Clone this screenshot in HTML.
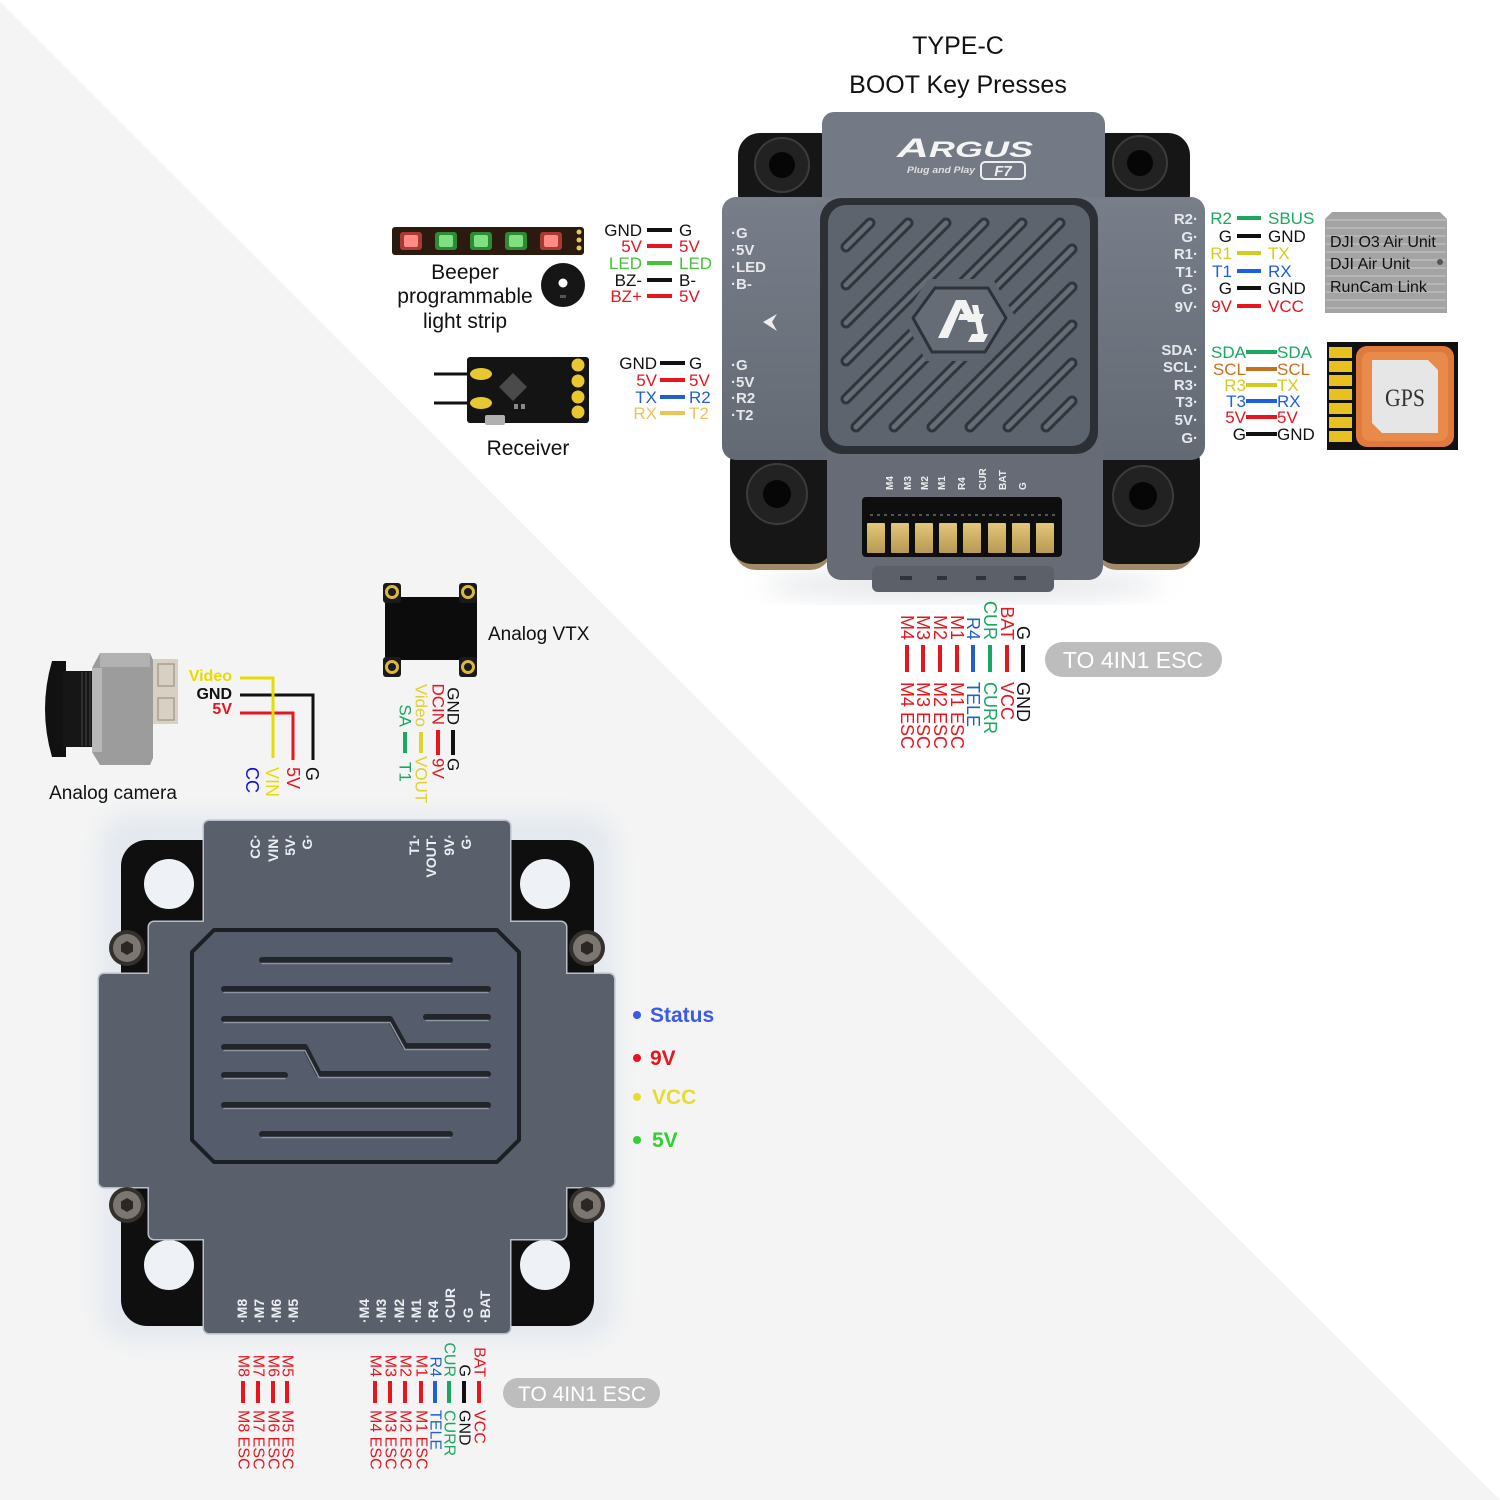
<!DOCTYPE html>
<html><head><meta charset="utf-8"><style>
html,body{margin:0;padding:0;background:#fff;}
svg{display:block;}
text{font-family:"Liberation Sans",Arial,sans-serif;}
.v{dominant-baseline:central;}
.b{font-weight:bold;}
</style></head><body>
<svg width="1500" height="1500" viewBox="0 0 1500 1500" xmlns="http://www.w3.org/2000/svg">
<defs>
<linearGradient id="plate" x1="0" y1="0" x2="0" y2="1"><stop offset="0" stop-color="#787e89"/><stop offset="1" stop-color="#646a74"/></linearGradient>
<linearGradient id="gold" x1="0" y1="0" x2="0" y2="1"><stop offset="0" stop-color="#e2c67a"/><stop offset="1" stop-color="#b89a52"/></linearGradient>
<filter id="blur" x="-20%" y="-20%" width="140%" height="140%"><feGaussianBlur stdDeviation="12"/></filter>
<clipPath id="face"><rect x="830" y="207" width="258" height="238" rx="18"/></clipPath>
</defs>
<rect width="1500" height="1500" fill="#fff"/>
<polygon points="0,2 1500,1500 0,1500" fill="#f4f4f4"/>

<!-- ============ TITLE ============ -->
<text x="958" y="54" font-size="25" text-anchor="middle" fill="#111">TYPE-C</text>
<text x="958" y="93" font-size="25" text-anchor="middle" fill="#111">BOOT Key Presses</text>

<!-- ============ TOP BOARD ============ -->
<ellipse cx="963" cy="585" rx="200" ry="14" fill="#c8ccd2" opacity="0.5" filter="url(#blur)"/>
<rect x="738" y="133" width="104" height="84" rx="22" fill="#161616"/>
<rect x="1085" y="133" width="105" height="84" rx="22" fill="#161616"/>
<rect x="734" y="448" width="98" height="122" rx="22" fill="#a08a68"/>
<rect x="1095" y="448" width="100" height="122" rx="22" fill="#a08a68"/>
<rect x="730" y="440" width="104" height="124" rx="22" fill="#161616"/>
<rect x="1094" y="440" width="106" height="124" rx="22" fill="#161616"/>
<rect x="822" y="112" width="283" height="120" rx="12" fill="#747a85"/>
<rect x="722" y="197" width="483" height="263" rx="14" fill="url(#plate)"/>
<rect x="827" y="430" width="276" height="150" rx="14" fill="#666b75"/>
<rect x="872" y="566" width="182" height="26" rx="6" fill="#5c6169"/>
<rect x="900" y="576" width="12" height="4" fill="#30333a"/><rect x="937" y="576" width="10" height="4" fill="#30333a"/>
<rect x="976" y="576" width="10" height="4" fill="#30333a"/><rect x="1014" y="576" width="12" height="4" fill="#30333a"/>
<g>
<circle cx="782" cy="165" r="27" fill="#222" stroke="#3c3c3c" stroke-width="2"/><circle cx="782" cy="165" r="13" fill="#060606"/>
<circle cx="1140" cy="163" r="27" fill="#222" stroke="#3c3c3c" stroke-width="2"/><circle cx="1140" cy="163" r="13" fill="#060606"/>
<circle cx="777" cy="494" r="30" fill="#222" stroke="#3c3c3c" stroke-width="2"/><circle cx="777" cy="494" r="14" fill="#060606"/>
<circle cx="1143" cy="496" r="30" fill="#222" stroke="#3c3c3c" stroke-width="2"/><circle cx="1143" cy="496" r="14" fill="#060606"/>
</g>
<text x="897" y="157" font-size="27" font-weight="bold" font-style="italic" fill="#f4f4f4" textLength="136" lengthAdjust="spacingAndGlyphs">A<tspan font-size="22">RGUS</tspan></text>
<text x="907" y="173" font-size="9" font-weight="bold" font-style="italic" fill="#e0e0e0" textLength="68" lengthAdjust="spacingAndGlyphs">Plug and Play</text>
<rect x="981" y="162" width="44" height="17" rx="4" fill="none" stroke="#eee" stroke-width="2"/>
<text x="1003" y="176" font-size="15" font-weight="bold" font-style="italic" text-anchor="middle" fill="#eee">F7</text>
<rect x="820" y="198" width="278" height="256" rx="22" fill="#2c3036"/>
<rect x="828" y="205" width="262" height="241" rx="18" fill="#5e646e"/>
<g clip-path="url(#face)" stroke-linecap="round">
<g stroke="#30343b" stroke-width="11">
<line x1="846" y1="247" x2="870" y2="223"/><line x1="846" y1="285" x2="908" y2="223"/>
<line x1="846" y1="323" x2="946" y2="223"/><line x1="846" y1="361" x2="984" y2="223"/>
<line x1="846" y1="399" x2="1022" y2="223"/><line x1="856" y1="427" x2="1060" y2="223"/>
<line x1="894" y1="427" x2="1072" y2="249"/><line x1="932" y1="427" x2="1072" y2="287"/>
<line x1="970" y1="427" x2="1072" y2="325"/><line x1="1008" y1="427" x2="1072" y2="363"/>
<line x1="1046" y1="427" x2="1072" y2="401"/>
</g>
<g stroke="#666c76" stroke-width="5">
<line x1="846" y1="247" x2="870" y2="223"/><line x1="846" y1="285" x2="908" y2="223"/>
<line x1="846" y1="323" x2="946" y2="223"/><line x1="846" y1="361" x2="984" y2="223"/>
<line x1="846" y1="399" x2="1022" y2="223"/><line x1="856" y1="427" x2="1060" y2="223"/>
<line x1="894" y1="427" x2="1072" y2="249"/><line x1="932" y1="427" x2="1072" y2="287"/>
<line x1="970" y1="427" x2="1072" y2="325"/><line x1="1008" y1="427" x2="1072" y2="363"/>
<line x1="1046" y1="427" x2="1072" y2="401"/>
</g>
</g>
<polygon points="903,318 928,279 993,279 1016,318 991,361 926,361" fill="#5e646e"/>
<polygon points="913,318 935,288 988,288 1006,318 985,352 932,352" fill="#666c76" stroke="#2e3238" stroke-width="3" stroke-linejoin="round"/>
<polygon points="938,338 956,300 966,300 976,322 968,322 961,308 948,338" fill="#f2f2f2"/>
<polygon points="960,314 984,314 981,320 958,320" fill="#f2f2f2"/>
<polygon points="934,342 984,342 988,334 972,334 968,342" fill="#f2f2f2"/>
<polygon points="972,305 978,305 984,335 978,335" fill="#f2f2f2"/>
<g font-size="15" font-weight="bold" fill="#e6e8ec">
<text x="731" y="238">·G</text><text x="731" y="255">·5V</text><text x="731" y="272">·LED</text><text x="731" y="289">·B-</text>
<text x="731" y="370">·G</text><text x="731" y="387">·5V</text><text x="731" y="403">·R2</text><text x="731" y="420">·T2</text>
<g text-anchor="end">
<text x="1198" y="224">R2·</text><text x="1198" y="242">G·</text><text x="1198" y="259">R1·</text><text x="1198" y="277">T1·</text><text x="1198" y="294">G·</text><text x="1198" y="312">9V·</text>
<text x="1198" y="355">SDA·</text><text x="1198" y="372">SCL·</text><text x="1198" y="390">R3·</text><text x="1198" y="407">T3·</text><text x="1198" y="425">5V·</text><text x="1198" y="443">G·</text>
</g>
</g>
<polygon points="777,314 763,322 777,331 772,322" fill="#eee"/>
<g font-size="10" font-weight="bold" fill="#eee">
<text transform="translate(893,490) rotate(-90)">M4</text><text transform="translate(911,490) rotate(-90)">M3</text>
<text transform="translate(928,490) rotate(-90)">M2</text><text transform="translate(945,490) rotate(-90)">M1</text>
<text transform="translate(965,490) rotate(-90)">R4</text><text transform="translate(986,490) rotate(-90)">CUR</text>
<text transform="translate(1006,490) rotate(-90)">BAT</text><text transform="translate(1026,490) rotate(-90)">G</text>
</g>
<rect x="862" y="497" width="200" height="60" rx="4" fill="#0e0e0e"/>
<line x1="870" y1="515" x2="1055" y2="515" stroke="#555" stroke-width="2" stroke-dasharray="3 4"/>
<g fill="url(#gold)">
<rect x="867" y="523" width="18" height="30" rx="1"/><rect x="891" y="523" width="18" height="30" rx="1"/>
<rect x="915" y="523" width="18" height="30" rx="1"/><rect x="939" y="523" width="18" height="30" rx="1"/>
<rect x="963" y="523" width="18" height="30" rx="1"/><rect x="988" y="523" width="18" height="30" rx="1"/>
<rect x="1012" y="523" width="18" height="30" rx="1"/><rect x="1036" y="523" width="18" height="30" rx="1"/>
</g>

<!-- ============ LED STRIP / BEEPER ============ -->
<rect x="392" y="227" width="192" height="28" rx="3" fill="#2a1a10"/>
<g>
<rect x="400" y="232" width="22" height="18" rx="3" fill="#a83a34"/><rect x="404" y="235" width="14" height="12" rx="2" fill="#ff8a86"/>
<rect x="435" y="232" width="22" height="18" rx="3" fill="#2f8a34"/><rect x="439" y="235" width="14" height="12" rx="2" fill="#7ee07e"/>
<rect x="470" y="232" width="22" height="18" rx="3" fill="#2f8a34"/><rect x="474" y="235" width="14" height="12" rx="2" fill="#7ee07e"/>
<rect x="505" y="232" width="22" height="18" rx="3" fill="#2f8a34"/><rect x="509" y="235" width="14" height="12" rx="2" fill="#7ee07e"/>
<rect x="540" y="232" width="22" height="18" rx="3" fill="#a83a34"/><rect x="544" y="235" width="14" height="12" rx="2" fill="#ff8a86"/>
<circle cx="579" cy="232" r="2.5" fill="#e8c860"/><circle cx="579" cy="240" r="2.5" fill="#e8c860"/><circle cx="579" cy="248" r="2.5" fill="#e8c860"/>
</g>
<circle cx="563" cy="285" r="22" fill="#161616"/>
<circle cx="563" cy="283" r="4.5" fill="#fff"/>
<rect x="560" y="295" width="6" height="3" fill="#555"/>
<g font-size="21" text-anchor="middle" fill="#111">
<text x="465" y="279">Beeper</text><text x="465" y="303">programmable</text><text x="465" y="328">light strip</text>
</g>
<g font-size="17">
<text x="642" y="236" text-anchor="end" fill="#111">GND</text><line x1="647" y1="230" x2="672" y2="230" stroke="#111" stroke-width="4"/><text x="679" y="236" fill="#111">G</text>
<text x="642" y="252" text-anchor="end" fill="#e8141e">5V</text><line x1="647" y1="246" x2="672" y2="246" stroke="#e8141e" stroke-width="4"/><text x="679" y="252" fill="#e8141e">5V</text>
<text x="642" y="269" text-anchor="end" fill="#44c23a">LED</text><line x1="647" y1="263" x2="672" y2="263" stroke="#44c23a" stroke-width="4"/><text x="679" y="269" fill="#44c23a">LED</text>
<text x="642" y="286" text-anchor="end" fill="#111">BZ-</text><line x1="647" y1="280" x2="672" y2="280" stroke="#111" stroke-width="4"/><text x="679" y="286" fill="#111">B-</text>
<text x="642" y="302" text-anchor="end" fill="#e8141e">BZ+</text><line x1="647" y1="296" x2="672" y2="296" stroke="#e8141e" stroke-width="4"/><text x="679" y="302" fill="#e8141e">5V</text>
</g>

<!-- ============ RECEIVER ============ -->
<line x1="434" y1="374" x2="470" y2="374" stroke="#111" stroke-width="3"/>
<line x1="434" y1="403" x2="470" y2="403" stroke="#111" stroke-width="3"/>
<rect x="467" y="357" width="122" height="66" rx="3" fill="#141414"/>
<ellipse cx="481" cy="374" rx="11" ry="6" fill="#e8c830"/><ellipse cx="481" cy="403" rx="11" ry="6" fill="#e8c830"/>
<circle cx="578" cy="365" r="6.5" fill="#e8c830"/><circle cx="578" cy="381" r="6.5" fill="#e8c830"/>
<circle cx="578" cy="397" r="6.5" fill="#e8c830"/><circle cx="578" cy="412" r="6.5" fill="#e8c830"/>
<polygon points="513,373 527,387 513,401 499,387" fill="#4a4a4a"/>
<rect x="514" y="404" width="4" height="5" fill="#888"/><rect x="521" y="404" width="4" height="5" fill="#888"/>
<rect x="485" y="415" width="20" height="10" rx="2" fill="#b0b0b0"/>
<text x="528" y="455" font-size="21" text-anchor="middle" fill="#111">Receiver</text>
<g font-size="17">
<text x="657" y="369" text-anchor="end" fill="#111">GND</text><line x1="660" y1="363" x2="685" y2="363" stroke="#111" stroke-width="4"/><text x="689" y="369" fill="#111">G</text>
<text x="657" y="386" text-anchor="end" fill="#e8141e">5V</text><line x1="660" y1="380" x2="685" y2="380" stroke="#e8141e" stroke-width="4"/><text x="689" y="386" fill="#e8141e">5V</text>
<text x="657" y="403" text-anchor="end" fill="#2060c8">TX</text><line x1="660" y1="397" x2="685" y2="397" stroke="#2060c8" stroke-width="4"/><text x="689" y="403" fill="#2060c8">R2</text>
<text x="657" y="419" text-anchor="end" fill="#eac45a">RX</text><line x1="660" y1="413" x2="685" y2="413" stroke="#eac45a" stroke-width="4"/><text x="689" y="419" fill="#eac45a">T2</text>
</g>

<!-- ============ RIGHT WIRING ============ -->
<g font-size="17">
<text x="1232" y="224" text-anchor="end" fill="#1aa860">R2</text><line x1="1237" y1="218" x2="1261" y2="218" stroke="#1aa860" stroke-width="4"/><text x="1268" y="224" fill="#1aa860">SBUS</text>
<text x="1232" y="242" text-anchor="end" fill="#111">G</text><line x1="1237" y1="236" x2="1261" y2="236" stroke="#111" stroke-width="4"/><text x="1268" y="242" fill="#111">GND</text>
<text x="1232" y="259" text-anchor="end" fill="#d4cc1c">R1</text><line x1="1237" y1="253" x2="1261" y2="253" stroke="#d4cc1c" stroke-width="4"/><text x="1268" y="259" fill="#d4cc1c">TX</text>
<text x="1232" y="277" text-anchor="end" fill="#1c5ee6">T1</text><line x1="1237" y1="271" x2="1261" y2="271" stroke="#1c5ee6" stroke-width="4"/><text x="1268" y="277" fill="#1c5ee6">RX</text>
<text x="1232" y="294" text-anchor="end" fill="#111">G</text><line x1="1237" y1="288" x2="1261" y2="288" stroke="#111" stroke-width="4"/><text x="1268" y="294" fill="#111">GND</text>
<text x="1232" y="312" text-anchor="end" fill="#e8141e">9V</text><line x1="1237" y1="306" x2="1261" y2="306" stroke="#e8141e" stroke-width="4"/><text x="1268" y="312" fill="#e8141e">VCC</text>

<text x="1246" y="358" text-anchor="end" fill="#1aa860">SDA</text><line x1="1246" y1="352" x2="1277" y2="352" stroke="#1aa860" stroke-width="4"/><text x="1277" y="358" fill="#1aa860">SDA</text>
<text x="1246" y="375" text-anchor="end" fill="#c4711e">SCL</text><line x1="1246" y1="369" x2="1277" y2="369" stroke="#c4711e" stroke-width="4"/><text x="1277" y="375" fill="#c4711e">SCL</text>
<text x="1246" y="391" text-anchor="end" fill="#d4cc1c">R3</text><line x1="1246" y1="385" x2="1277" y2="385" stroke="#d4cc1c" stroke-width="4"/><text x="1277" y="391" fill="#d4cc1c">TX</text>
<text x="1246" y="407" text-anchor="end" fill="#1c5ee6">T3</text><line x1="1246" y1="401" x2="1277" y2="401" stroke="#1c5ee6" stroke-width="4"/><text x="1277" y="407" fill="#1c5ee6">RX</text>
<text x="1246" y="423" text-anchor="end" fill="#e8141e">5V</text><line x1="1246" y1="417" x2="1277" y2="417" stroke="#e8141e" stroke-width="4"/><text x="1277" y="423" fill="#e8141e">5V</text>
<text x="1246" y="440" text-anchor="end" fill="#111">G</text><line x1="1246" y1="434" x2="1277" y2="434" stroke="#111" stroke-width="4"/><text x="1277" y="440" fill="#111">GND</text>
</g>

<polygon points="1332,212 1440,212 1447,219 1447,313 1325,313 1325,219" fill="#a3a3a3"/>
<g stroke="#b6b6b6" stroke-width="2">
<line x1="1326" y1="220" x2="1446" y2="220"/><line x1="1326" y1="228" x2="1446" y2="228"/><line x1="1326" y1="236" x2="1446" y2="236"/>
<line x1="1326" y1="244" x2="1446" y2="244"/><line x1="1326" y1="252" x2="1446" y2="252"/><line x1="1326" y1="260" x2="1446" y2="260"/>
<line x1="1326" y1="268" x2="1446" y2="268"/><line x1="1326" y1="276" x2="1446" y2="276"/><line x1="1326" y1="284" x2="1446" y2="284"/>
<line x1="1326" y1="292" x2="1446" y2="292"/><line x1="1326" y1="300" x2="1446" y2="300"/><line x1="1326" y1="308" x2="1446" y2="308"/>
</g>
<circle cx="1440" cy="262" r="3" fill="#555"/>
<g font-size="16" fill="#111">
<text x="1330" y="247">DJI O3 Air Unit</text><text x="1330" y="269">DJI Air Unit</text><text x="1330" y="292">RunCam Link</text>
</g>
<rect x="1327" y="342" width="131" height="108" fill="#111"/>
<g fill="#e8c020">
<rect x="1329" y="347" width="23" height="11"/><rect x="1329" y="361" width="23" height="11"/><rect x="1329" y="375" width="23" height="11"/>
<rect x="1329" y="389" width="23" height="11"/><rect x="1329" y="403" width="23" height="11"/><rect x="1329" y="417" width="23" height="11"/>
<rect x="1329" y="431" width="23" height="11"/>
</g>
<rect x="1356" y="346" width="98" height="101" rx="11" fill="#e07a3c"/>
<rect x="1362" y="352" width="86" height="89" rx="8" fill="#e88a4a"/>
<polygon points="1372,360 1428,360 1438,370 1438,433 1382,433 1372,423" fill="#e6e6e6"/>
<text x="1405" y="406" style="font-family:'Liberation Serif',serif" font-size="25" text-anchor="middle" fill="#333" textLength="40" lengthAdjust="spacingAndGlyphs">GPS</text>

<!-- ============ TOP ESC LABELS ============ -->
<g font-size="18">
<g fill="#e8141e"><text class="v" transform="translate(907,640) rotate(90)" text-anchor="end">M4</text><text class="v" transform="translate(907,682) rotate(90)">M4 ESC</text></g>
<g fill="#e8141e"><text class="v" transform="translate(923,640) rotate(90)" text-anchor="end">M3</text><text class="v" transform="translate(923,682) rotate(90)">M3 ESC</text></g>
<g fill="#e8141e"><text class="v" transform="translate(940,640) rotate(90)" text-anchor="end">M2</text><text class="v" transform="translate(940,682) rotate(90)">M2 ESC</text></g>
<g fill="#e8141e"><text class="v" transform="translate(957,640) rotate(90)" text-anchor="end">M1</text><text class="v" transform="translate(957,682) rotate(90)">M1 ESC</text></g>
<g fill="#2060c8"><text class="v" transform="translate(973,640) rotate(90)" text-anchor="end">R4</text><text class="v" transform="translate(973,682) rotate(90)">TELE</text></g>
<g fill="#1aa860"><text class="v" transform="translate(990,640) rotate(90)" text-anchor="end">CUR</text><text class="v" transform="translate(990,682) rotate(90)">CURR</text></g>
<g fill="#e8141e"><text class="v" transform="translate(1007,640) rotate(90)" text-anchor="end">BAT</text><text class="v" transform="translate(1007,682) rotate(90)">VCC</text></g>
<g fill="#111"><text class="v" transform="translate(1023,640) rotate(90)" text-anchor="end">G</text><text class="v" transform="translate(1023,682) rotate(90)">GND</text></g>
</g>
<g stroke-width="4">
<line x1="907" y1="645" x2="907" y2="672" stroke="#e8141e"/><line x1="923" y1="645" x2="923" y2="672" stroke="#e8141e"/>
<line x1="940" y1="645" x2="940" y2="672" stroke="#e8141e"/><line x1="957" y1="645" x2="957" y2="672" stroke="#e8141e"/>
<line x1="973" y1="645" x2="973" y2="672" stroke="#2060c8"/><line x1="990" y1="645" x2="990" y2="672" stroke="#1aa860"/>
<line x1="1007" y1="645" x2="1007" y2="672" stroke="#e8141e"/><line x1="1023" y1="645" x2="1023" y2="672" stroke="#111"/>
</g>
<rect x="1045" y="642" width="177" height="35" rx="17.5" fill="#bdbdbd"/>
<text x="1133" y="668" font-size="23" text-anchor="middle" fill="#fff">TO 4IN1 ESC</text>

<!-- ============ ANALOG CAMERA ============ -->
<path d="M52,661 Q38,709 52,757 L66,757 L66,661 Z" fill="#111"/>
<rect x="63" y="671" width="30" height="76" fill="#161616"/>
<g stroke="#2e2e2e" stroke-width="2"><line x1="82" y1="672" x2="82" y2="746"/><line x1="86" y1="672" x2="86" y2="746"/><line x1="90" y1="672" x2="90" y2="746"/></g>
<path d="M92,668 L100,653 L150,653 L153,660 L153,758 L150,765 L100,765 L92,752 Z" fill="#9c9c9c"/>
<rect x="100" y="653" width="50" height="14" fill="#b2b2b2"/>
<rect x="92" y="668" width="10" height="84" fill="#b8b8b8"/>
<rect x="153" y="659" width="25" height="65" fill="#d8d1c3"/>
<rect x="158" y="664" width="16" height="22" fill="none" stroke="#a89f8e" stroke-width="1.5"/>
<rect x="158" y="698" width="16" height="22" fill="none" stroke="#a89f8e" stroke-width="1.5"/>
<text x="113" y="799" font-size="19" text-anchor="middle" fill="#111">Analog camera</text>
<g font-size="16" font-weight="bold" text-anchor="end">
<text x="232" y="681" fill="#e6dc00">Video</text><text x="232" y="699" fill="#111">GND</text><text x="232" y="714" fill="#e8141e">5V</text>
</g>
<g fill="none" stroke-width="3">
<polyline points="240,695 313,695 313,760" stroke="#111"/>
<polyline points="240,713 293,713 293,760" stroke="#e8141e"/>
<polyline points="240,678 273,678 273,758" stroke="#e6dc00"/>
</g>
<g font-size="18">
<text class="v" transform="translate(252,767) rotate(90)" fill="#1010e0">CC</text>
<text class="v" transform="translate(272,767) rotate(90)" fill="#e6dc00">VIN</text>
<text class="v" transform="translate(293,767) rotate(90)" fill="#e8141e">5V</text>
<text class="v" transform="translate(312,767) rotate(90)" fill="#111">G</text>
</g>

<!-- ============ ANALOG VTX ============ -->
<rect x="385" y="597" width="92" height="63" fill="#0c0c0c"/>
<rect x="383" y="583" width="18" height="20" rx="3" fill="#1a1a1a"/><rect x="459" y="583" width="18" height="20" rx="3" fill="#1a1a1a"/>
<rect x="383" y="657" width="18" height="20" rx="3" fill="#1a1a1a"/><rect x="459" y="657" width="18" height="20" rx="3" fill="#1a1a1a"/>
<g fill="none" stroke="#d8b840" stroke-width="3">
<circle cx="392" cy="592" r="5.5"/><circle cx="468" cy="592" r="5.5"/><circle cx="392" cy="667" r="5.5"/><circle cx="468" cy="667" r="5.5"/>
</g>
<text x="488" y="640" font-size="19" fill="#111">Analog VTX</text>
<g font-size="17">
<g fill="#111"><text class="v" transform="translate(453,725) rotate(90)" text-anchor="end">GND</text><text class="v" transform="translate(453,758) rotate(90)">G</text></g>
<g fill="#e8141e"><text class="v" transform="translate(438,725) rotate(90)" text-anchor="end">DCIN</text><text class="v" transform="translate(438,758) rotate(90)">9V</text></g>
<g fill="#e0d030"><text class="v" transform="translate(421,727) rotate(90)" text-anchor="end">Video</text><text class="v" transform="translate(421,756) rotate(90)">VOUT</text></g>
<g fill="#1aa860"><text class="v" transform="translate(405,727) rotate(90)" text-anchor="end">SA</text><text class="v" transform="translate(405,762) rotate(90)">T1</text></g>
</g>
<g stroke-width="4">
<line x1="453" y1="730" x2="453" y2="755" stroke="#111"/><line x1="438" y1="730" x2="438" y2="755" stroke="#e8141e"/>
<line x1="421" y1="732" x2="421" y2="753" stroke="#e0d030"/><line x1="405" y1="732" x2="405" y2="753" stroke="#1aa860"/>
</g>

<!-- ============ BOTTOM BOARD ============ -->
<rect x="100" y="815" width="515" height="525" rx="30" fill="#d6e0ec" opacity="0.55" filter="url(#blur)"/>
<rect x="121" y="840" width="473" height="486" rx="26" fill="#0f0f10"/>
<circle cx="169" cy="884" r="25" fill="#eef1f5"/><circle cx="545" cy="884" r="25" fill="#eef1f5"/>
<circle cx="169" cy="1265" r="25" fill="#eef1f5"/><circle cx="545" cy="1265" r="25" fill="#eef1f5"/>
<polygon points="209,826 505,826 505,927 561,927 561,979 609,979 609,1182 561,1182 561,1234 505,1234 505,1328 209,1328 209,1234 154,1234 154,1182 104,1182 104,979 154,979 154,927 209,927" fill="#b9bfc8" stroke="#b9bfc8" stroke-width="13" stroke-linejoin="round"/>
<polygon points="209,826 505,826 505,927 561,927 561,979 609,979 609,1182 561,1182 561,1234 505,1234 505,1328 209,1328 209,1234 154,1234 154,1182 104,1182 104,979 154,979 154,927 209,927" fill="#59606c" stroke="#59606c" stroke-width="10" stroke-linejoin="round"/>
<g>
<circle cx="127" cy="948" r="18" fill="#34302d"/><circle cx="127" cy="948" r="14" fill="#7c7670"/><polygon points="127,941 133,944.5 133,951.5 127,955 121,951.5 121,944.5" fill="#2a2725"/>
<circle cx="587" cy="948" r="18" fill="#34302d"/><circle cx="587" cy="948" r="14" fill="#7c7670"/><polygon points="587,941 593,944.5 593,951.5 587,955 581,951.5 581,944.5" fill="#2a2725"/>
<circle cx="127" cy="1205" r="18" fill="#34302d"/><circle cx="127" cy="1205" r="14" fill="#7c7670"/><polygon points="127,1198 133,1201.5 133,1208.5 127,1212 121,1208.5 121,1201.5" fill="#2a2725"/>
<circle cx="587" cy="1205" r="18" fill="#34302d"/><circle cx="587" cy="1205" r="14" fill="#7c7670"/><polygon points="587,1198 593,1201.5 593,1208.5 587,1212 581,1208.5 581,1201.5" fill="#2a2725"/>
</g>
<polygon points="214,930 497,930 519,952 519,1140 497,1162 214,1162 192,1140 192,952" fill="#555d6c" stroke="#1c1f23" stroke-width="4" stroke-linejoin="round"/>
<g fill="none" stroke-linecap="round" stroke-linejoin="round">
<g stroke="#22252a" stroke-width="6">
<line x1="262" y1="960" x2="450" y2="960"/>
<line x1="224" y1="989" x2="488" y2="989"/>
<polyline points="224,1019 390,1019 405,1046 488,1046"/>
<line x1="426" y1="1017" x2="488" y2="1017"/>
<polyline points="224,1047 305,1047 319,1074 488,1074"/>
<line x1="224" y1="1075" x2="285" y2="1075"/>
<line x1="224" y1="1105" x2="488" y2="1105"/>
<line x1="262" y1="1134" x2="450" y2="1134"/>
</g>
<g stroke="#8d94a0" stroke-width="1.5" transform="translate(0,3.5)">
<line x1="262" y1="960" x2="450" y2="960"/>
<line x1="224" y1="989" x2="488" y2="989"/>
<polyline points="224,1019 390,1019 405,1046 488,1046"/>
<line x1="426" y1="1017" x2="488" y2="1017"/>
<polyline points="224,1047 305,1047 319,1074 488,1074"/>
<line x1="224" y1="1075" x2="285" y2="1075"/>
<line x1="224" y1="1105" x2="488" y2="1105"/>
<line x1="262" y1="1134" x2="450" y2="1134"/>
</g>
</g>
<g font-size="14" font-weight="bold" fill="#eceef2">
<text class="v" transform="translate(255,834) rotate(-90)" text-anchor="end">CC·</text>
<text class="v" transform="translate(273,834) rotate(-90)" text-anchor="end">VIN·</text>
<text class="v" transform="translate(290,834) rotate(-90)" text-anchor="end">5V·</text>
<text class="v" transform="translate(307,834) rotate(-90)" text-anchor="end">G·</text>
<text class="v" transform="translate(414,834) rotate(-90)" text-anchor="end">T1·</text>
<text class="v" transform="translate(431,834) rotate(-90)" text-anchor="end">VOUT·</text>
<text class="v" transform="translate(449,834) rotate(-90)" text-anchor="end">9V·</text>
<text class="v" transform="translate(466,834) rotate(-90)" text-anchor="end">G·</text>
<text class="v" transform="translate(242,1323) rotate(-90)">·M8</text>
<text class="v" transform="translate(259,1323) rotate(-90)">·M7</text>
<text class="v" transform="translate(276,1323) rotate(-90)">·M6</text>
<text class="v" transform="translate(293,1323) rotate(-90)">·M5</text>
<text class="v" transform="translate(364,1323) rotate(-90)">·M4</text>
<text class="v" transform="translate(381,1323) rotate(-90)">·M3</text>
<text class="v" transform="translate(399,1323) rotate(-90)">·M2</text>
<text class="v" transform="translate(416,1323) rotate(-90)">·M1</text>
<text class="v" transform="translate(433,1323) rotate(-90)">·R4</text>
<text class="v" transform="translate(450,1323) rotate(-90)">·CUR</text>
<text class="v" transform="translate(468,1323) rotate(-90)">·G</text>
<text class="v" transform="translate(485,1323) rotate(-90)">·BAT</text>
</g>

<circle cx="637" cy="1015" r="4" fill="#3a5ae8"/><text x="650" y="1022" font-size="21" font-weight="bold" fill="#3a5ae8">Status</text>
<circle cx="637" cy="1058" r="4" fill="#e8141e"/><text x="650" y="1065" font-size="21" font-weight="bold" fill="#e8141e">9V</text>
<circle cx="637" cy="1097" r="4" fill="#e6dc30"/><text x="652" y="1104" font-size="21" font-weight="bold" fill="#e6dc30">VCC</text>
<circle cx="637" cy="1140" r="4" fill="#30d030"/><text x="652" y="1147" font-size="21" font-weight="bold" fill="#30d030">5V</text>

<!-- ============ BOTTOM ESC LABELS ============ -->
<g font-size="16">
<g fill="#e8141e">
<text class="v" transform="translate(243,1377) rotate(90)" text-anchor="end">M8</text><text class="v" transform="translate(243,1410) rotate(90)">M8 ESC</text>
<text class="v" transform="translate(258,1377) rotate(90)" text-anchor="end">M7</text><text class="v" transform="translate(258,1410) rotate(90)">M7 ESC</text>
<text class="v" transform="translate(273,1377) rotate(90)" text-anchor="end">M6</text><text class="v" transform="translate(273,1410) rotate(90)">M6 ESC</text>
<text class="v" transform="translate(287,1377) rotate(90)" text-anchor="end">M5</text><text class="v" transform="translate(287,1410) rotate(90)">M5 ESC</text>
<text class="v" transform="translate(375,1377) rotate(90)" text-anchor="end">M4</text><text class="v" transform="translate(375,1410) rotate(90)">M4 ESC</text>
<text class="v" transform="translate(390,1377) rotate(90)" text-anchor="end">M3</text><text class="v" transform="translate(390,1410) rotate(90)">M3 ESC</text>
<text class="v" transform="translate(405,1377) rotate(90)" text-anchor="end">M2</text><text class="v" transform="translate(405,1410) rotate(90)">M2 ESC</text>
<text class="v" transform="translate(421,1377) rotate(90)" text-anchor="end">M1</text><text class="v" transform="translate(421,1410) rotate(90)">M1 ESC</text>
<text class="v" transform="translate(479,1377) rotate(90)" text-anchor="end">BAT</text><text class="v" transform="translate(479,1410) rotate(90)">VCC</text>
</g>
<g fill="#2060c8"><text class="v" transform="translate(435,1377) rotate(90)" text-anchor="end">R4</text><text class="v" transform="translate(435,1410) rotate(90)">TELE</text></g>
<g fill="#1aa860"><text class="v" transform="translate(449,1377) rotate(90)" text-anchor="end">CUR</text><text class="v" transform="translate(449,1410) rotate(90)">CURR</text></g>
<g fill="#111"><text class="v" transform="translate(464,1377) rotate(90)" text-anchor="end">G</text><text class="v" transform="translate(464,1410) rotate(90)">GND</text></g>
</g>
<g stroke-width="4">
<line x1="243" y1="1381" x2="243" y2="1403" stroke="#e8141e"/><line x1="258" y1="1381" x2="258" y2="1403" stroke="#e8141e"/>
<line x1="273" y1="1381" x2="273" y2="1403" stroke="#e8141e"/><line x1="287" y1="1381" x2="287" y2="1403" stroke="#e8141e"/>
<line x1="375" y1="1381" x2="375" y2="1403" stroke="#e8141e"/><line x1="390" y1="1381" x2="390" y2="1403" stroke="#e8141e"/>
<line x1="405" y1="1381" x2="405" y2="1403" stroke="#e8141e"/><line x1="421" y1="1381" x2="421" y2="1403" stroke="#e8141e"/>
<line x1="435" y1="1381" x2="435" y2="1403" stroke="#2060c8"/><line x1="449" y1="1381" x2="449" y2="1403" stroke="#1aa860"/>
<line x1="464" y1="1381" x2="464" y2="1403" stroke="#111"/><line x1="479" y1="1381" x2="479" y2="1403" stroke="#e8141e"/>
</g>
<rect x="503" y="1378" width="157" height="30" rx="15" fill="#bdbdbd"/>
<text x="582" y="1401" font-size="21" text-anchor="middle" fill="#fff">TO 4IN1 ESC</text>
</svg>
</body></html>
